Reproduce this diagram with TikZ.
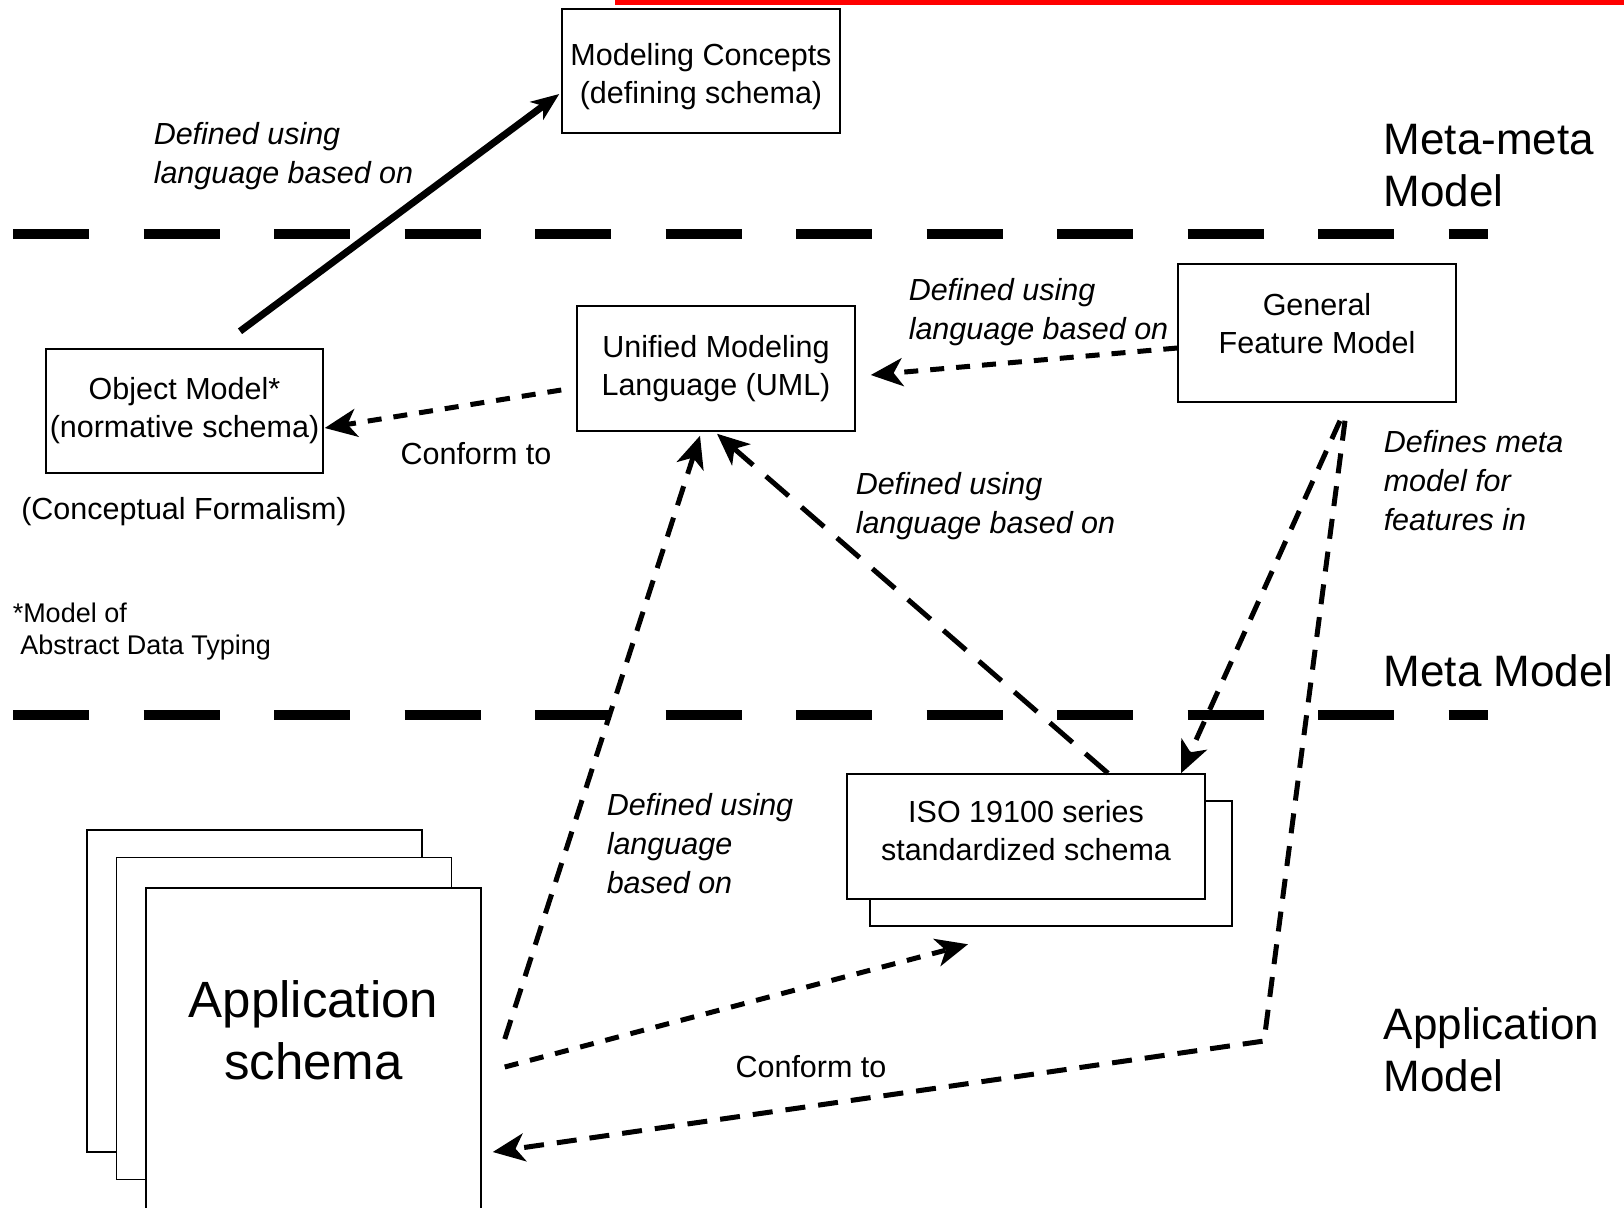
\documentclass[tikz,border=0pt]{standalone}
\usepackage{fontspec}
\setmainfont{Liberation Sans}
\usetikzlibrary{arrows.meta, positioning, calc}
\tikzset{
  every picture/.style={line width=1.5pt},
  box/.style={draw, fill=white, align=center, inner sep=0pt, font=\fontsize{30.5}{38}\selectfont},
  tag/.style={align=left, inner sep=0pt, anchor=west, font=\fontsize{30.5}{39}\selectfont\itshape},
  note/.style={align=left, inner sep=0pt, font=\fontsize{30.5}{38}\selectfont},
  layer/.style={align=left, inner sep=0pt, anchor=west, font=\fontsize{44}{52}\selectfont},
  link/.style={-{Stealth[length=28pt, width=22pt, inset=8pt]}, line width=7pt},
  dlink/.style={-{Stealth[length=32pt, width=28pt, inset=9pt]}, line width=5pt, dash pattern=on 14pt off 12pt},
  mlink/.style={dlink, dash pattern=on 20pt off 13pt},
  llink/.style={dlink, dash pattern=on 30pt off 17pt},
  sep/.style={line width=10pt, dash pattern=on 76pt off 54.5pt},
}
\begin{document}
\begin{tikzpicture}[x=1pt, y=-1pt]
  \useasboundingbox (0,0) rectangle (1624,1207);
  \fill[red] (615,0) rectangle (1624,5);
  \foreach \y in {234,715} \draw[sep] (13,\y) -- (1488,\y);
  % boxes
  \node[box, minimum width=278pt, minimum height=124pt] (mc) at (701,71) {\rule{0pt}{34pt}Modeling Concepts\\(defining schema)};
  \node[box, minimum width=277pt, minimum height=124pt] (om) at (184.5,411) {Object Model*\\(normative schema)};
  \node[box, minimum width=278pt, minimum height=125pt] (uml) at (716,368.5) {Unified Modeling\\Language (UML)};
  \node[box, minimum width=278pt, minimum height=138pt] (gfm) at (1317,333) {General\\Feature Model\rule[-20pt]{0pt}{20pt}};
  \node[box, minimum width=362pt, minimum height=125pt] (isoback) at (1051,863.5) {};
  \node[box, minimum width=358pt, minimum height=125pt] (iso) at (1026,836.5) {ISO 19100 series\\standardized schema\rule[-12pt]{0pt}{12pt}};
  \foreach \n/\x/\y in {app1/254.5/991, app2/284/1018.5}
    \node[box, minimum width=335pt, minimum height=322pt] (\n) at (\x,\y) {};
  \node[box, minimum width=335pt, minimum height=340pt, font=\fontsize{51}{62}\selectfont] (app) at (313.5,1058) {Application\\schema\rule[-56pt]{0pt}{56pt}};
  % texts
  \node[layer] (mm) at (1383,166) {Meta-meta\\Model};
  \node[layer] (meta) at (1383,671) {Meta Model};
  \node[layer] (am) at (1383,1050) {Application\\Model};
  \node[note] (cf) at (184,512) {(Conceptual Formalism)};
  \node[note, anchor=west, font=\fontsize{27}{32}\selectfont] (adt) at (12,632) {*Model of\\\ Abstract Data Typing};
  \node[tag] (t1) at (153,156) {Defined using\\language based on};
  \node[tag] (t3) at (908,312) {Defined using\\language based on};
  \node[tag] (t4) at (855,506) {Defined using\\language based on};
  \node[tag] (t5) at (606,844) {Defined using\\language\\based on};
  \node[tag] (t6) at (1383,481) {Defines meta\\model for\\features in};
  \node[note] (c1) at (476,454) {Conform to};
  \node[note] (c2) at (811,1067) {Conform to};
  \coordinate (bend) at (1264,1041);
  % connectors
  \draw[link] ([xshift=55.5pt, yshift=17pt]om.north) -- ([xshift=-2pt, yshift=-23pt]mc.west);
  \draw[dlink] ([xshift=-15pt, yshift=-21.5pt]uml.west) -- ([xshift=1pt, yshift=-17pt]om.east);
  \draw[dlink] ([yshift=-15pt]gfm.west) -- ([xshift=15pt, yshift=-6.5pt]uml.east);
  \draw[llink] ([xshift=82pt]iso.north) -- ([xshift=1pt, yshift=-2pt]uml.south);
  \draw[mlink] ([xshift=23pt, yshift=19pt]app.east) -- ([xshift=-16pt, yshift=-4pt]uml.south);
  \draw[mlink] ([xshift=23pt, yshift=-18pt]gfm.south) -- ([xshift=155pt]iso.north);
  \draw[mlink] ([xshift=28pt, yshift=-18pt]gfm.south) -- (bend) -- ([xshift=11pt, yshift=-94pt]app.east);
  \draw[dlink] ([xshift=23pt, yshift=-9pt]app.east) -- ([xshift=-83pt, yshift=-17.5pt]isoback.south);
\end{tikzpicture}
\end{document}
